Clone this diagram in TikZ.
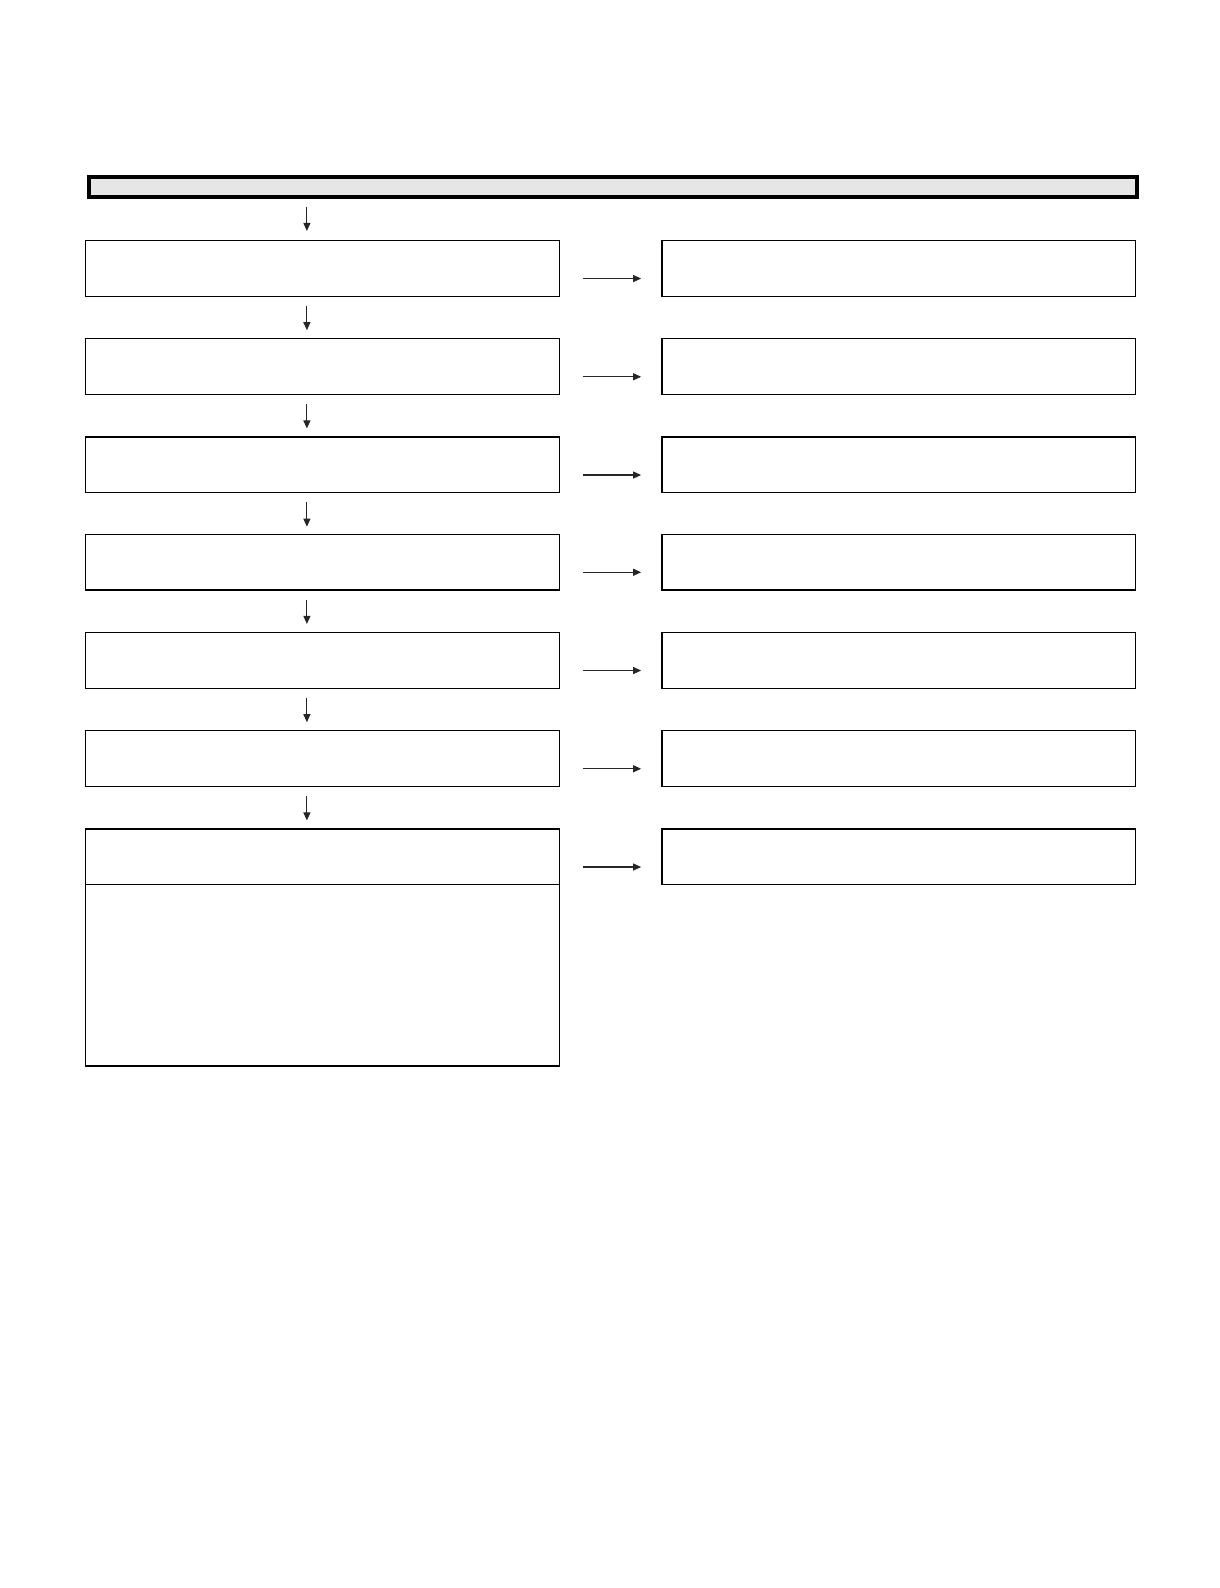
\documentclass[tikz,border=0pt]{standalone}
\usetikzlibrary{arrows.meta}
\definecolor{barfill}{HTML}{E6E6E6}
\tikzset{
  box/.style={draw=black, line width=1.2pt, minimum width=468pt, minimum height=55pt, inner sep=0pt, anchor=north west},
  bar/.style={draw=black, line width=4pt, fill=barfill, minimum width=1035pt, minimum height=20pt, inner sep=0pt, anchor=north west},
  arr/.style={draw=black!85, line width=1.1pt, -{Triangle[length=8pt,width=7pt]}}
}
\begin{document}
\begin{tikzpicture}[x=1pt,y=-1pt]
\useasboundingbox (0,0) rectangle (1220,1588);
\begin{scope}[scale=1.0127, transform shape]
\node[bar] (top) at (86,173) {};
\foreach \i/\y in {1/237,2/334,3/431,4/527,5/624,6/721,7/818}{
  \node[box] (L\i) at (84,\y) {};
  \node[box] (R\i) at (653,\y) {};
  \coordinate (ra\i) at (576,\y+38);
  \coordinate (rb\i) at (633,\y+38);
  \draw[arr] (ra\i) -- (rb\i);
}
\node[box, minimum height=179pt] (L7b) at (84,873) {};
\coordinate (d0a) at (303,204); \coordinate (d0b) at (303,228);
\draw[arr] (d0a) -- (d0b);
\foreach \i/\y in {1/302,2/399,3/496,4/592,5/689,6/786}{
  \coordinate (da\i) at (303,\y);
  \coordinate (db\i) at (303,\y+24);
  \draw[arr] (da\i) -- (db\i);
}
\end{scope}
\end{tikzpicture}
\end{document}
